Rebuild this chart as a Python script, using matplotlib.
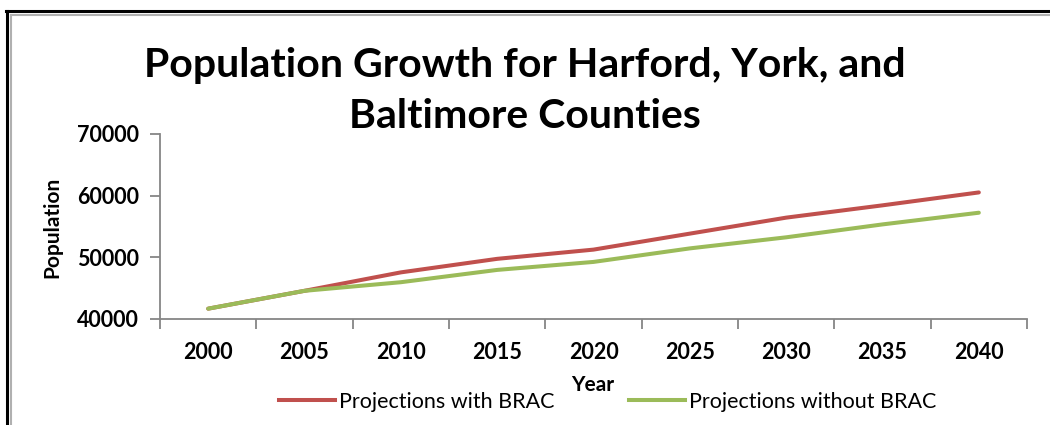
import matplotlib
matplotlib.use("Agg")
import matplotlib.pyplot as plt
from matplotlib.lines import Line2D
import numpy as np

years = ["2000", "2005", "2010", "2015", "2020", "2025", "2030", "2035", "2040"]
with_brac = [41600, 44500, 47500, 49700, 51200, 53800, 56400, 58400, 60500]
without_brac = [41600, 44500, 45900, 47900, 49200, 51400, 53200, 55300, 57200]
yticks = [40000, 50000, 60000, 70000]

red = "#C0504D"
green = "#9BBB59"
gray = "#868686"
font = "Lato"

fig = plt.figure(figsize=(10.5, 4.25), dpi=100)
ax = fig.add_axes([160 / 1050, 1 - 318.5 / 425, (1027 - 160) / 1050, (318.5 - 134) / 425])

x = np.arange(len(years))
ax.plot(x, with_brac, color=red, lw=2.9, solid_capstyle="round")
ax.plot(x, without_brac, color=green, lw=2.9, solid_capstyle="round")

ax.set_xlim(-0.5, len(years) - 0.5)
ax.set_ylim(40000, 70000)
ax.set_yticks(yticks)
ax.set_yticklabels([str(v) for v in yticks], fontfamily=font, fontweight="bold",
                   fontsize=15.5)
ax.set_xticks(x)
ax.set_xticklabels(years, fontfamily=font, fontweight="bold", fontsize=15.5)
ax.set_xticks(np.arange(-0.5, len(years)), minor=True)
ax.tick_params(axis="x", which="major", length=0, pad=17)
ax.tick_params(axis="x", which="minor", length=7, color=gray, width=1.3)
ax.tick_params(axis="y", length=7, color=gray, width=1.3, pad=8)

for s in ["top", "right"]:
    ax.spines[s].set_visible(False)
for s in ["left", "bottom"]:
    ax.spines[s].set_color(gray)
    ax.spines[s].set_linewidth(1.3)

fig.text(0.5, 1 - 66 / 425, "Population Growth for Harford, York, and",
         ha="center", va="center", fontfamily=font, fontweight="bold", fontsize=29.5)
fig.text(0.5, 1 - 117 / 425, "Baltimore Counties",
         ha="center", va="center", fontfamily=font, fontweight="bold", fontsize=29.5)

fig.text(52 / 1050, 1 - 227 / 425, "Population", rotation=90, ha="center",
         va="center", fontfamily=font, fontweight="bold", fontsize=15)
fig.text(593 / 1050, 1 - 385 / 425, "Year", ha="center", va="center",
         fontfamily=font, fontweight="bold", fontsize=15)

# legend entries placed by hand like the original layout
handles = [Line2D([], [], color=red, lw=2.9), Line2D([], [], color=green, lw=2.9)]
leg1 = fig.legend([handles[0]], ["Projections with BRAC"], loc="center left",
                  bbox_to_anchor=(260 / 1050, 1 - 402 / 425), frameon=False,
                  handlelength=2.6, handletextpad=0.15,
                  prop={"family": font, "size": 15.5})
leg2 = fig.legend([handles[1]], ["Projections without BRAC"], loc="center left",
                  bbox_to_anchor=(610 / 1050, 1 - 402 / 425), frameon=False,
                  handlelength=2.6, handletextpad=0.15,
                  prop={"family": font, "size": 15.5})

# outer frame
fig.add_artist(Line2D([7 / 1050, 7 / 1050], [0, 1 - 10.5 / 425], color="black", lw=2.2))
fig.add_artist(Line2D([6 / 1050, 1], [1 - 10.5 / 425, 1 - 10.5 / 425], color="black", lw=2.2))
fig.add_artist(Line2D([11 / 1050, 11 / 1050], [0, 1 - 14.5 / 425], color="#B0B0B0", lw=1.5))
fig.add_artist(Line2D([11 / 1050, 1], [1 - 14.5 / 425, 1 - 14.5 / 425], color="#B0B0B0", lw=1.5))

fig.savefig("out.png", dpi=100)
